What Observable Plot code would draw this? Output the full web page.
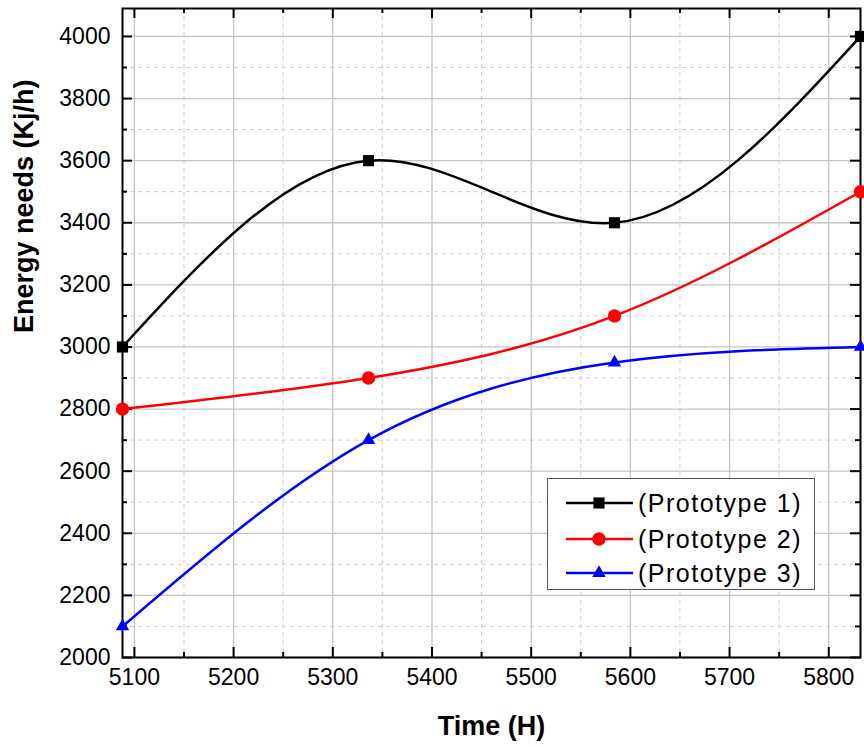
<!DOCTYPE html>
<html><head><meta charset="utf-8">
<script src="https://cdn.jsdelivr.net/npm/d3@7"></script>
<script src="https://cdn.jsdelivr.net/npm/@observablehq/plot@0.6"></script>
<style>
body{margin:0;background:#fff;}
#wrap{position:relative;width:864px;height:747px;}
#legend{position:absolute;left:547px;top:478px;width:266px;height:110px;border:1px solid #555;background:#fff;}
</style></head><body><div id="wrap"><div id="legend"></div></div>
<script>
// ---- data ----
const time = [5088, 5336, 5584, 5832];
const proto1 = [3000, 3600, 3400, 4000];
const proto2 = [2800, 2900, 3100, 3500];
const proto3 = [2100, 2700, 2950, 3000];
const seriesNames = ["(Prototype 1)", "(Prototype 2)", "(Prototype 3)"];
const seriesColors = ["#000000", "#ff0000", "#0000ff"];
const seriesSymbols = ["square", "circle", "triangle"];
const xMajor = [5100, 5200, 5300, 5400, 5500, 5600, 5700, 5800];
const xMinor = [5150, 5250, 5350, 5450, 5550, 5650, 5750];
const yMajor = [2000, 2200, 2400, 2600, 2800, 3000, 3200, 3400, 3600, 3800, 4000];
const yMinor = [2100, 2300, 2500, 2700, 2900, 3100, 3300, 3500, 3700, 3900];
const xTitle = "Time (H)";
const yTitle = "Energy needs (Kj/h)";

const W = 864, H = 747, mL = 122, mR = 4, mT = 8, mB = 90;
const innerW = W - mL - mR, innerH = H - mT - mB;
const font = "'Liberation Sans', Arial, Helvetica, sans-serif";

const allValues = [proto1, proto2, proto3];
const rows = allValues.flatMap((vals, k) => time.map((t, i) => ({series: seriesNames[k], time: t, value: vals[i]})));

const marks = [
  Plot.gridX(xMinor, {stroke: "#cccccc", strokeOpacity: 1, strokeDasharray: "4,4", strokeWidth: 1}),
  Plot.gridY(yMinor, {stroke: "#cccccc", strokeOpacity: 1, strokeDasharray: "4,4", strokeWidth: 1}),
  Plot.gridX(xMajor, {stroke: "#c4c4c4", strokeOpacity: 1, strokeWidth: 1.3}),
  Plot.gridY(yMajor, {stroke: "#c4c4c4", strokeOpacity: 1, strokeWidth: 1.3}),
  // inward ticks
  Plot.tickX(xMajor, {x: d => d, insetTop: innerH - 10, stroke: "black", strokeWidth: 2}),
  Plot.tickX(xMinor, {x: d => d, insetTop: innerH - 5, stroke: "black", strokeWidth: 2}),
  Plot.tickX(xMajor, {x: d => d, insetBottom: innerH - 10, stroke: "black", strokeWidth: 2}),
  Plot.tickX(xMinor, {x: d => d, insetBottom: innerH - 5, stroke: "black", strokeWidth: 2}),
  Plot.tickY(yMajor, {y: d => d, insetRight: innerW - 10, stroke: "black", strokeWidth: 2}),
  Plot.tickY(yMinor, {y: d => d, insetRight: innerW - 5, stroke: "black", strokeWidth: 2}),
  Plot.tickY(yMajor, {y: d => d, insetLeft: innerW - 10, stroke: "black", strokeWidth: 2}),
  Plot.tickY(yMinor, {y: d => d, insetLeft: innerW - 5, stroke: "black", strokeWidth: 2}),
  Plot.frame({stroke: "black", strokeWidth: 2}),
  Plot.axisX({ticks: xMajor, tickSize: 0, tickPadding: 11, fontSize: 23, tickFormat: d => String(d), label: null}),
  Plot.axisY({ticks: yMajor, tickSize: 0, tickPadding: 12, fontSize: 23, tickFormat: d => String(d), label: null}),
  Plot.text([xTitle], {text: d => d, frameAnchor: "bottom", dy: 58, lineAnchor: "top", fontSize: 27, fontWeight: "bold", fill: "black"}),
  Plot.text([yTitle], {text: d => d, frameAnchor: "left", dx: -109, rotate: -90, lineAnchor: "top", fontSize: 27, fontWeight: "bold", fill: "black"}),
];
seriesNames.forEach((name, k) => {
  const data = rows.filter(r => r.series === name);
  marks.push(Plot.line(data, {x: "time", y: "value", stroke: seriesColors[k], strokeWidth: 2.5, curve: "natural"}));
  marks.push(Plot.dot(data, {x: "time", y: "value", fill: seriesColors[k], stroke: "none", symbol: seriesSymbols[k], r: k === 0 ? 6.3 : k === 1 ? 6.7 : 5}));
});

const chart = Plot.plot({
  width: W, height: H,
  marginLeft: mL, marginRight: mR, marginTop: mT, marginBottom: mB,
  style: {fontFamily: font, color: "black", background: "white", overflow: "visible"},
  x: {domain: [5088, 5832]},
  y: {domain: [2000, 4090]},
  marks
});
document.getElementById("wrap").prepend(chart);

// legend
const lg = d3.select("#legend").append("svg").attr("width", 266).attr("height", 110);
const rowY = [24, 60, 94];
seriesNames.forEach((name, k) => {
  const g = lg.append("g").attr("transform", `translate(0,${rowY[k]})`);
  g.append("line").attr("x1", 18).attr("x2", 85).attr("y1", 0).attr("y2", 0)
    .attr("stroke", seriesColors[k]).attr("stroke-width", 2.5);
  const sym = {square: d3.symbolSquare, circle: d3.symbolCircle, triangle: d3.symbolTriangle}[seriesSymbols[k]];
  const r = k === 0 ? 6.3 : k === 1 ? 6.7 : 5;
  g.append("path").attr("transform", "translate(51,0)")
    .attr("d", d3.symbol(sym, Math.PI * r * r)()).attr("fill", seriesColors[k]);
  g.append("text").attr("x", 90).attr("y", 9).text(name)
    .attr("font-family", font).attr("font-size", 25).attr("letter-spacing", 1.5).attr("fill", "black");
});
</script></body></html>
